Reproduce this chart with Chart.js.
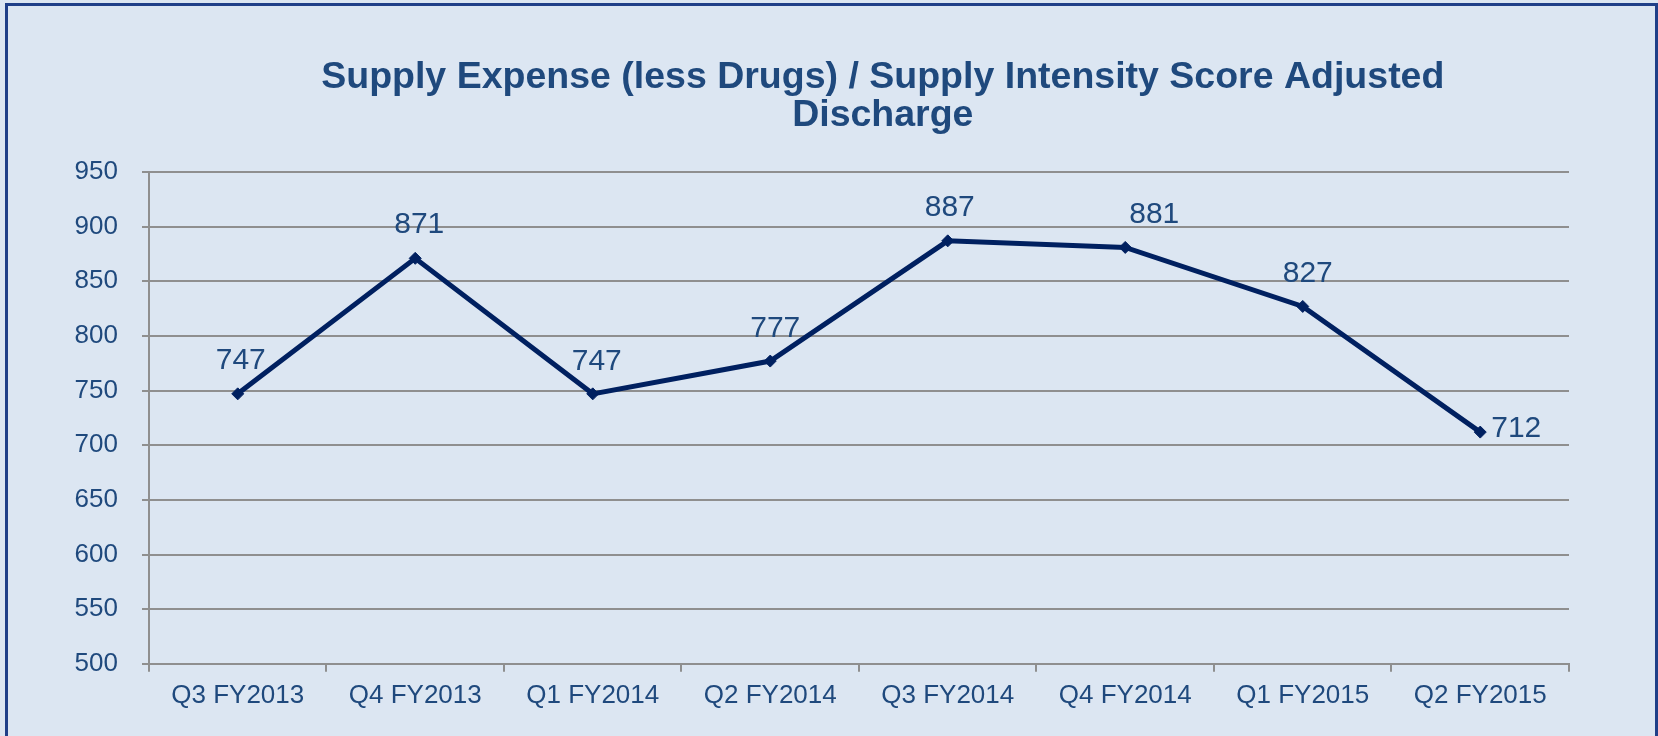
<!DOCTYPE html>
<html>
<head>
<meta charset="utf-8">
<script src="https://cdn.jsdelivr.net/npm/chart.js@4"></script>
<style>
  html, body { margin: 0; padding: 0; background: #DCE6F2; overflow: hidden; }
  #frame { position: absolute; left: 5px; top: 3px; width: 1647px; height: 760px;
           border: 3px solid #1F3F88; border-bottom: none; box-sizing: content-box; }
  #wrap { position: absolute; left: 0; top: 0; width: 1658px; height: 736px; }
</style>
</head>
<body>
<div id="frame"></div>
<div id="wrap"><canvas id="c" width="1658" height="736"></canvas></div>
<script>
const categories = ['Q3 FY2013', 'Q4 FY2013', 'Q1 FY2014', 'Q2 FY2014', 'Q3 FY2014', 'Q4 FY2014', 'Q1 FY2015', 'Q2 FY2015'];
const values = [747, 871, 747, 777, 887, 881, 827, 712];
const yTicks = [500, 550, 600, 650, 700, 750, 800, 850, 900, 950];
const titleLines = ['Supply Expense (less Drugs) / Supply Intensity Score Adjusted', 'Discharge'];

const FONT = "'Liberation Sans', Arial, sans-serif";
const TEXT = '#1F497D';
const GRID = '#8F8F8F';

const titleShift = {
  id: 'titleShift',
  afterLayout(chart, args, opts) {
    if (chart.titleBlock) {
      chart.titleBlock.left += 2 * opts.shift;
    }
  }
};

const valueLabels = {
  id: 'valueLabels',
  afterDatasetsDraw(chart, args, opts) {
    const ctx = chart.ctx;
    const meta = chart.getDatasetMeta(0);
    const data = chart.data.datasets[0].data;
    ctx.save();
    ctx.font = opts.font;
    ctx.fillStyle = opts.color;
    ctx.textBaseline = 'alphabetic';
    meta.data.forEach((pt, i) => {
      const p = opts.place[i] || { align: 'center', dx: 0, dy: -25 };
      ctx.textAlign = p.align;
      ctx.fillText(String(data[i]), pt.x + p.dx, pt.y + p.dy);
    });
    ctx.restore();
  }
};

new Chart(document.getElementById('c'), {
  type: 'line',
  data: {
    labels: categories,
    datasets: [{
      data: values,
      borderColor: '#002060',
      backgroundColor: '#002060',
      borderWidth: 5,
      pointStyle: 'rectRot',
      pointRadius: 6,
      pointBorderWidth: 1,
      pointBorderColor: '#002060',
      tension: 0,
      clip: false
    }]
  },
  options: {
    responsive: false,
    animation: false,
    devicePixelRatio: 1,
    layout: { padding: { left: 50.6, right: 89, top: 0, bottom: 17 } },
    plugins: {
      legend: { display: false },
      tooltip: { enabled: false },
      title: {
        display: true,
        text: titleLines,
        color: TEXT,
        font: { family: FONT, size: 37.5, weight: 'bold', lineHeight: 1.0 },
        padding: { top: 59, bottom: 38 }
      },
      titleShift: { shift: 73 },
      valueLabels: {
        font: "30px 'Liberation Sans', Arial, sans-serif",
        color: TEXT,
        place: [
          { align: 'center', dx: 3, dy: -25 },
          { align: 'center', dx: 4, dy: -25 },
          { align: 'center', dx: 4, dy: -24 },
          { align: 'center', dx: 5, dy: -24 },
          { align: 'center', dx: 2, dy: -25 },
          { align: 'center', dx: 29, dy: -24 },
          { align: 'center', dx: 5, dy: -24 },
          { align: 'left', dx: 11, dy: 5 }
        ]
      }
    },
    scales: {
      x: {
        type: 'category',
        offset: true,
        grid: {
          offset: true,
          drawOnChartArea: false,
          drawTicks: true,
          tickLength: 8,
          color: GRID,
          lineWidth: 2
        },
        border: { display: true, color: GRID, width: 2 },
        ticks: {
          color: TEXT,
          font: { family: FONT, size: 26 },
          padding: 8,
          maxRotation: 0,
          autoSkip: false
        }
      },
      y: {
        type: 'linear',
        min: yTicks[0],
        max: yTicks[yTicks.length - 1],
        afterBuildTicks(scale) { scale.ticks = yTicks.map(v => ({ value: v })); },
        grid: {
          drawTicks: true,
          tickLength: 7,
          color: GRID,
          lineWidth: 2
        },
        border: { display: true, color: GRID, width: 2 },
        ticks: {
          color: TEXT,
          font: { family: FONT, size: 26 },
          padding: 24
        }
      }
    }
  },
  plugins: [titleShift, valueLabels]
});
</script>
</body>
</html>
